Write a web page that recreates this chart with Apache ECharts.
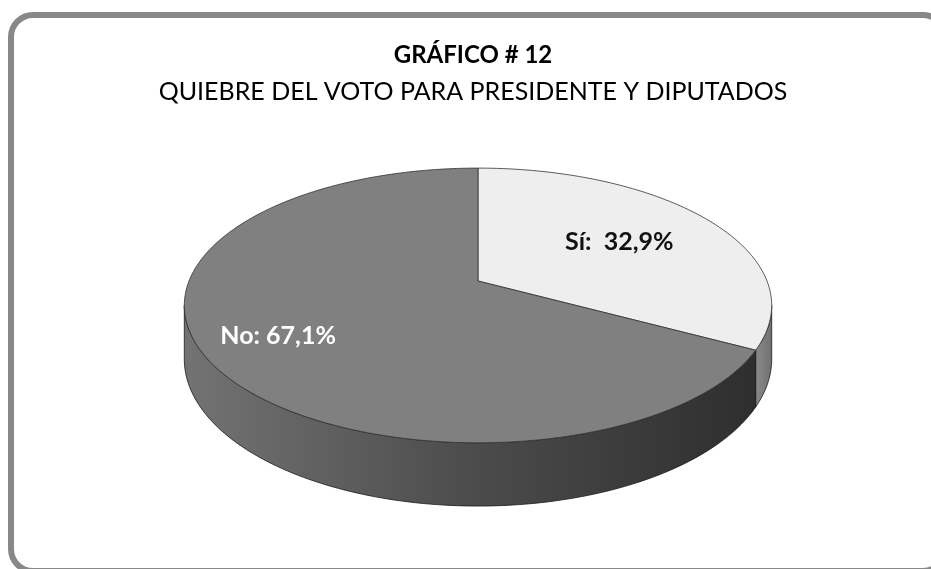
<!DOCTYPE html>
<html>
<head>
<meta charset="utf-8">
<script src="https://cdn.jsdelivr.net/npm/echarts@6/dist/echarts.min.js"></script>
<style>
  html, body { margin: 0; padding: 0; background: #fff; }
  #main { width: 931px; height: 569px; }
</style>
</head>
<body>
<div id="main"></div>
<script>
// datos del grafico
var categorias = ['Sí', 'No'];
var valores = [32.9, 67.1];
var etiquetas = ['Sí:  32,9%', 'No: 67,1%'];

// estilo por porcion
var colorTapa = ['#eeeeee', '#808080'];
var colorLado = [
  ['#8a8a8a', '#707070'],
  ['#737373', '#4c4c4c', '#2e2e2e']
];
var colorTexto = ['#111111', '#ffffff'];
var radioEtiqueta = [0.6, 0.75];

// geometria del "3D" (perspectiva simple)
var cx = 478, cy = 281;
var kx = 289, my = 133, persp = 0.178;
var alto = 52;

function proy(phi, r, caida) {
  var u = Math.sin(phi) * r, v = Math.cos(phi) * r;
  var d = 1 + persp * v;
  return [cx + kx * u / d, cy - my * v / d + (caida ? alto / d : 0)];
}

function arco(a, b, caida) {
  var pts = [];
  var n = Math.max(2, Math.ceil((b - a) / 0.02));
  for (var i = 0; i <= n; i++) {
    pts.push(proy(a + (b - a) * i / n, 1, caida));
  }
  return pts;
}

var total = valores.reduce(function (s, v) { return s + v; }, 0);
var inicios = [];
var acc = 0;
valores.forEach(function (v) { inicios.push(acc / total * Math.PI * 2); acc += v; });

var silIzq = Math.acos(-persp);
var silDer = Math.PI * 2 - silIzq;

function renderItem(params, api) {
  var i = params.dataIndex;
  var a = inicios[i];
  var b = a + api.value(0) / total * Math.PI * 2;
  var hijos = [];

  // pared frontal visible
  var wa = Math.max(a, silIzq), wb = Math.min(b, silDer);
  if (wb > wa) {
    var sup = arco(wa, wb, false);
    var inf = arco(wa, wb, true).reverse();
    var stops = colorLado[i].map(function (c, k, arr) {
      return { offset: arr.length > 1 ? k / (arr.length - 1) : 0, color: c };
    });
    hijos.push({
      type: 'polygon',
      z2: 1,
      shape: { points: sup.concat(inf) },
      style: {
        fill: new echarts.graphic.LinearGradient(0, 0, 1, 0, stops),
        stroke: '#1a1a1a',
        lineWidth: 0.8
      }
    });
  }

  // tapa superior
  var tapa = [proy(0, 0, false)].concat(arco(a, b, false));
  hijos.push({
    type: 'polygon',
    z2: 5,
    shape: { points: tapa },
    style: { fill: colorTapa[i], stroke: '#333333', lineWidth: 0.8 }
  });

  // etiqueta
  var mid = (a + b) / 2;
  var p = proy(mid, radioEtiqueta[i], false);
  hijos.push({
    type: 'text',
    z2: 10,
    x: p[0],
    y: p[1],
    style: {
      text: etiquetas[i],
      fill: colorTexto[i],
      font: 'bold 25px Lato, "Open Sans", sans-serif',
      align: 'center',
      verticalAlign: 'middle'
    }
  });

  return { type: 'group', children: hijos };
}

var chart = echarts.init(document.getElementById('main'));

var option = {
  backgroundColor: '#ffffff',
  animation: false,
  title: {
    text: 'GRÁFICO # 12',
    subtext: 'QUIEBRE DEL VOTO PARA PRESIDENTE Y DIPUTADOS',
    left: 468,
    textAlign: 'center',
    top: 38,
    itemGap: 12,
    textStyle: {
      fontFamily: 'Lato',
      fontWeight: 'bold',
      fontSize: 24,
      color: '#000'
    },
    subtextStyle: {
      fontFamily: 'Lato',
      fontWeight: 'normal',
      fontSize: 25,
      color: '#000'
    }
  },
  graphic: [{
    type: 'rect',
    shape: { x: 11, y: 15, width: 934, height: 556, r: 22 },
    style: { fill: 'none', stroke: '#888888', lineWidth: 6 },
    silent: true
  }],
  series: [{
    type: 'custom',
    coordinateSystem: 'none',
    renderItem: renderItem,
    data: valores.map(function (v, k) { return { name: categorias[k], value: [v] }; })
  }]
};

chart.setOption(option);
</script>
</body>
</html>
